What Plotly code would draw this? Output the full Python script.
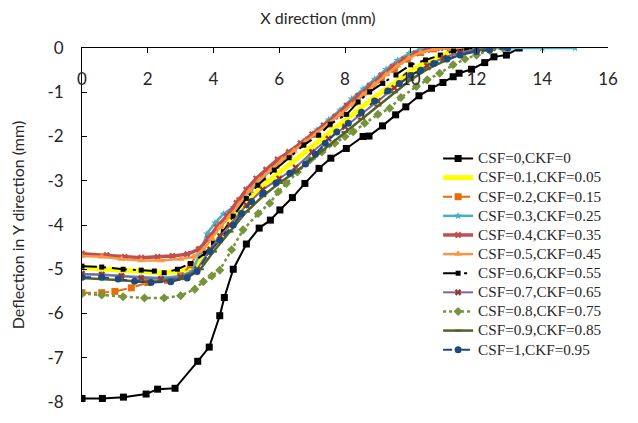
import plotly.graph_objects as go

# ---- data ----
x_00 = [0, 0.62, 1.26, 1.95, 2.3, 2.83, 3.52, 3.87, 4.19, 4.33, 4.6, 5.0, 5.39, 5.73, 6.02, 6.4, 6.78,
        7.21, 7.57, 8.04, 8.55, 8.73, 9.14, 9.54, 9.85, 10.25, 10.63, 10.98, 11.29, 11.47, 11.85, 12.25,
        12.53, 12.91, 13.3]
y_00 = [-7.92, -7.92, -7.89, -7.82, -7.71, -7.69, -7.08, -6.76, -6.05, -5.64, -5.0, -4.43, -4.07, -3.89,
        -3.66, -3.38, -3.06, -2.72, -2.49, -2.27, -2.0, -1.99, -1.76, -1.51, -1.33, -1.08, -0.91, -0.78,
        -0.65, -0.57, -0.48, -0.33, -0.2, -0.16, 0]

x_01 = [0, 0.6, 1.2, 1.8, 2.4, 3.0, 3.4, 3.7, 4.0, 4.3, 4.6, 5.0, 5.5, 6.0, 6.5, 7.0, 7.5, 8.0, 8.5,
        9.0, 9.5, 10.0, 10.5, 11.0, 11.5, 12.0, 12.5]
y_01 = [-4.96, -4.98, -5.02, -5.05, -5.08, -5.05, -4.95, -4.7, -4.45, -4.15, -3.85, -3.5, -3.12, -2.82,
        -2.52, -2.22, -1.92, -1.63, -1.34, -1.06, -0.78, -0.52, -0.3, -0.15, -0.06, -0.02, 0]

x_02 = [0, 0.6, 1.0, 1.5, 2.0, 2.6, 3.0, 3.3, 3.6, 3.9, 4.2, 4.5, 4.8, 5.1, 5.5, 5.9, 6.3, 6.7, 7.1,
        7.5, 7.9, 8.3, 8.7, 9.1, 9.5, 9.9, 10.3, 10.7, 11.2]
y_02 = [-5.53, -5.53, -5.5, -5.42, -5.3, -5.25, -5.15, -4.9, -4.55, -4.25, -4.0, -3.75, -3.45, -3.2,
        -2.92, -2.65, -2.4, -2.18, -1.95, -1.72, -1.48, -1.22, -0.98, -0.72, -0.48, -0.25, -0.1, -0.02, 0]

x_03 = [0, 0.6, 1.2, 1.8, 2.4, 3.0, 3.35, 3.6, 3.8, 4.05, 4.3, 4.6, 4.85, 5.15, 5.45, 5.8, 6.1, 6.45,
        6.8, 7.15, 7.5, 7.85, 8.2, 8.55, 8.9, 9.25, 9.6, 9.95, 10.3, 10.7, 11.2, 12.0, 13.0, 14.0, 15.0]
y_03 = [-5.12, -5.12, -5.15, -5.18, -5.2, -5.15, -5.05, -4.62, -4.2, -3.95, -3.75, -3.6, -3.42, -3.2,
        -2.95, -2.7, -2.5, -2.3, -2.08, -1.85, -1.62, -1.4, -1.15, -0.92, -0.7, -0.48, -0.28, -0.12,
        -0.03, 0, 0, 0, 0, 0, 0]

x_04 = [0, 0.75, 1.3, 1.8, 2.3, 2.75, 3.2, 3.55, 3.85, 4.1, 4.4, 4.7, 5.0, 5.3, 5.6, 5.95, 6.3, 6.65,
        7.0, 7.35, 7.7, 8.05, 8.4, 8.75, 9.1, 9.45, 9.8, 10.15, 10.5, 10.9, 11.3]
y_04 = [-4.65, -4.68, -4.72, -4.74, -4.72, -4.7, -4.66, -4.55, -4.3, -4.05, -3.8, -3.5, -3.2, -2.95,
        -2.75, -2.52, -2.35, -2.15, -1.95, -1.75, -1.55, -1.3, -1.08, -0.85, -0.62, -0.42, -0.25, -0.12,
        -0.04, 0, 0]

x_05 = [0, 0.6, 1.2, 1.8, 2.4, 3.0, 3.4, 3.7, 3.95, 4.2, 4.5, 4.8, 5.1, 5.4, 5.75, 6.1, 6.45, 6.8,
        7.15, 7.5, 7.85, 8.2, 8.55, 8.9, 9.25, 9.6, 9.95, 10.3, 10.7, 11.1, 11.5]
y_05 = [-4.7, -4.72, -4.77, -4.8, -4.8, -4.77, -4.72, -4.55, -4.3, -4.05, -3.8, -3.52, -3.22, -2.98,
        -2.75, -2.52, -2.32, -2.12, -1.92, -1.72, -1.5, -1.28, -1.05, -0.82, -0.6, -0.4, -0.22, -0.1,
        -0.03, 0, 0]

x_06 = [0, 0.6, 1.25, 1.8, 2.2, 2.5, 2.9, 3.3, 3.75, 4.0, 4.3, 4.6, 5.0, 5.35, 5.85, 6.3, 6.75, 7.2,
        7.55, 8.05, 8.4, 8.75, 9.15, 9.55, 10.0, 10.45, 10.9, 11.3, 11.7, 12.1]
y_06 = [-4.93, -4.95, -5.0, -5.02, -5.04, -5.08, -5.0, -4.87, -4.64, -4.41, -4.15, -3.8, -3.4, -3.1,
        -2.76, -2.48, -2.19, -1.97, -1.72, -1.5, -1.22, -0.99, -0.8, -0.61, -0.38, -0.27, -0.16, -0.07,
        -0.02, 0]

x_07 = [0, 0.6, 1.2, 1.8, 2.4, 3.0, 3.5, 3.9, 4.2, 4.5, 5.0, 5.5, 6.0, 6.5, 7.0, 7.5, 8.0, 8.5, 9.0,
        9.5, 10.0, 10.5, 11.0, 11.5, 12.0, 12.5]
y_07 = [-5.1, -5.12, -5.15, -5.2, -5.22, -5.18, -5.0, -4.55, -4.25, -4.0, -3.55, -3.2, -2.95, -2.7,
        -2.35, -2.05, -1.78, -1.5, -1.2, -0.9, -0.62, -0.4, -0.22, -0.1, -0.03, 0]

x_08 = [0, 0.6, 1.25, 1.9, 2.5, 3.0, 3.43, 3.69, 3.95, 4.19, 4.55, 4.9, 5.36, 5.71, 5.97, 6.22, 6.55,
        6.93, 7.3, 7.69, 8.0, 8.25, 8.6, 9.0, 9.36, 9.7, 10.17, 10.5, 10.88, 11.29, 11.65, 12.0, 12.4, 12.8]
y_08 = [-5.55, -5.58, -5.62, -5.65, -5.65, -5.6, -5.45, -5.28, -5.15, -5.02, -4.56, -4.11, -3.74, -3.51,
        -3.25, -3.06, -2.8, -2.53, -2.35, -2.15, -2.0, -1.89, -1.7, -1.5, -1.36, -1.12, -0.87, -0.72,
        -0.57, -0.38, -0.25, -0.16, -0.05, 0]

x_09 = [0, 0.6, 1.2, 1.8, 2.4, 3.0, 3.6, 4.0, 4.5, 5.0, 5.5, 6.0, 6.5, 7.0, 7.5, 8.0, 8.5, 9.0, 9.5,
        10.0, 10.5, 11.0, 11.5, 12.0, 12.5]
y_09 = [-5.2, -5.22, -5.25, -5.28, -5.27, -5.22, -5.0, -4.6, -4.15, -3.7, -3.35, -3.05, -2.8, -2.5,
        -2.2, -1.9, -1.6, -1.3, -1.0, -0.72, -0.48, -0.3, -0.15, -0.06, 0]

x_10 = [0, 0.6, 1.1, 1.6, 2.1, 2.7, 3.2, 3.5, 3.89, 4.19, 4.6, 4.85, 5.16, 5.51, 5.9, 6.32, 6.8, 7.1,
        7.4, 7.75, 8.1, 8.5, 8.9, 9.3, 9.65, 10.0, 10.3, 10.7, 11.1, 11.5, 12.0, 12.4, 12.95]
y_10 = [-5.18, -5.18, -5.22, -5.27, -5.3, -5.28, -5.2, -5.05, -4.6, -4.34, -4.0, -3.74, -3.47, -3.28,
        -3.05, -2.83, -2.62, -2.4, -2.15, -1.9, -1.7, -1.45, -1.2, -0.97, -0.8, -0.62, -0.5, -0.35,
        -0.25, -0.16, -0.08, -0.04, 0]

names = ["CSF=0,CKF=0", "CSF=0.1,CKF=0.05", "CSF=0.2,CKF=0.15", "CSF=0.3,CKF=0.25",
         "CSF=0.4,CKF=0.35", "CSF=0.5,CKF=0.45", "CSF=0.6,CKF=0.55", "CSF=0.7,CKF=0.65",
         "CSF=0.8,CKF=0.75", "CSF=0.9,CKF=0.85", "CSF=1,CKF=0.95"]
xs = [x_00, x_01, x_02, x_03, x_04, x_05, x_06, x_07, x_08, x_09, x_10]
ys = [y_00, y_01, y_02, y_03, y_04, y_05, y_06, y_07, y_08, y_09, y_10]

x_ticks = [0, 2, 4, 6, 8, 10, 12, 14, 16]
y_ticks = [0, -1, -2, -3, -4, -5, -6, -7, -8]

# ---- styles ----
styles = [
    dict(line=dict(color="#000000", width=2), marker=dict(symbol="square", size=7, color="#000000")),
    dict(line=dict(color="#FFFF00", width=5), marker=dict(symbol="circle", size=3, color="#FFFF00")),
    dict(line=dict(color="#E46C0A", width=2, dash="dashdot"), marker=dict(symbol="square", size=7, color="#E46C0A")),
    dict(line=dict(color="#4BACC6", width=2.5), marker=dict(symbol="star", size=6, color="#4BACC6")),
    dict(line=dict(color="#C0504D", width=3.5), marker=dict(symbol="x", size=6, color="#C0504D")),
    dict(line=dict(color="#F79646", width=2.5), marker=dict(symbol="triangle-up", size=7, color="#F79646")),
    dict(line=dict(color="#000000", width=2, dash="longdashdot"), marker=dict(symbol="square", size=5, color="#000000")),
    dict(line=dict(color="#8064A2", width=2), marker=dict(symbol="x", size=6, color="#953735")),
    dict(line=dict(color="#77933C", width=2.5, dash="dot"), marker=dict(symbol="diamond", size=7, color="#77933C")),
    dict(line=dict(color="#4F6228", width=2.5), marker=dict(symbol="line-ew", size=5, color="#4F6228",
                                                          line=dict(color="#4F6228", width=2))),
    dict(line=dict(color="#1F497D", width=2, dash="dash"), marker=dict(symbol="circle", size=7, color="#1F497D")),
]

fig = go.Figure()
for name, xv, yv, st in zip(names, xs, ys, styles):
    fig.add_trace(go.Scatter(x=xv, y=yv, name='<span style="font-size:15.2px">' + name + '</span>',
                             mode="lines+markers", **st))

axis_font = dict(family="Lato, Open Sans, sans-serif", size=17, color="#262626")

fig.update_layout(
    width=630, height=415,
    margin=dict(l=74, r=30, t=40, b=21),
    paper_bgcolor="white", plot_bgcolor="white",
    title=dict(text="X direction (mm)", x=310 / 630, xref="container", xanchor="center",
               y=1 - 10 / 415, yanchor="middle", yref="container",
               font=dict(family="Lato, Open Sans, sans-serif", size=16, color="#262626")),
    legend=dict(x=0.677, xanchor="left", y=0.729, yanchor="top",
                font=dict(family="Liberation Serif, Times New Roman, serif", size=12.4, color="#262626"),
                bgcolor="rgba(255,255,255,0)", tracegroupgap=0),
    showlegend=True,
)

fig.update_xaxes(range=[0, 16], tickvals=x_ticks, ticktext=[str(v) for v in x_ticks],
                 side="top", ticklabelposition="inside", ticklabeloverflow="allow",
                 ticks="inside", ticklen=5, tickcolor="black", automargin=False,
                 showline=True, linecolor="black", linewidth=1, showgrid=False, zeroline=False,
                 tickfont=axis_font, ticklabelstandoff=21)
fig.update_yaxes(range=[-8, 0], tickvals=y_ticks, ticktext=[str(v) for v in y_ticks],
                 ticks="inside", ticklen=5, tickcolor="black", automargin=False,
                 showline=True, linecolor="black", linewidth=1, showgrid=False, zeroline=False,
                 tickfont=axis_font, ticklabelstandoff=14,
                 title=dict(text="Deflection in Y direction (mm)", standoff=20,
                            font=dict(family="Lato, Open Sans, sans-serif", size=16, color="#262626")))

fig.write_html("out.html")
